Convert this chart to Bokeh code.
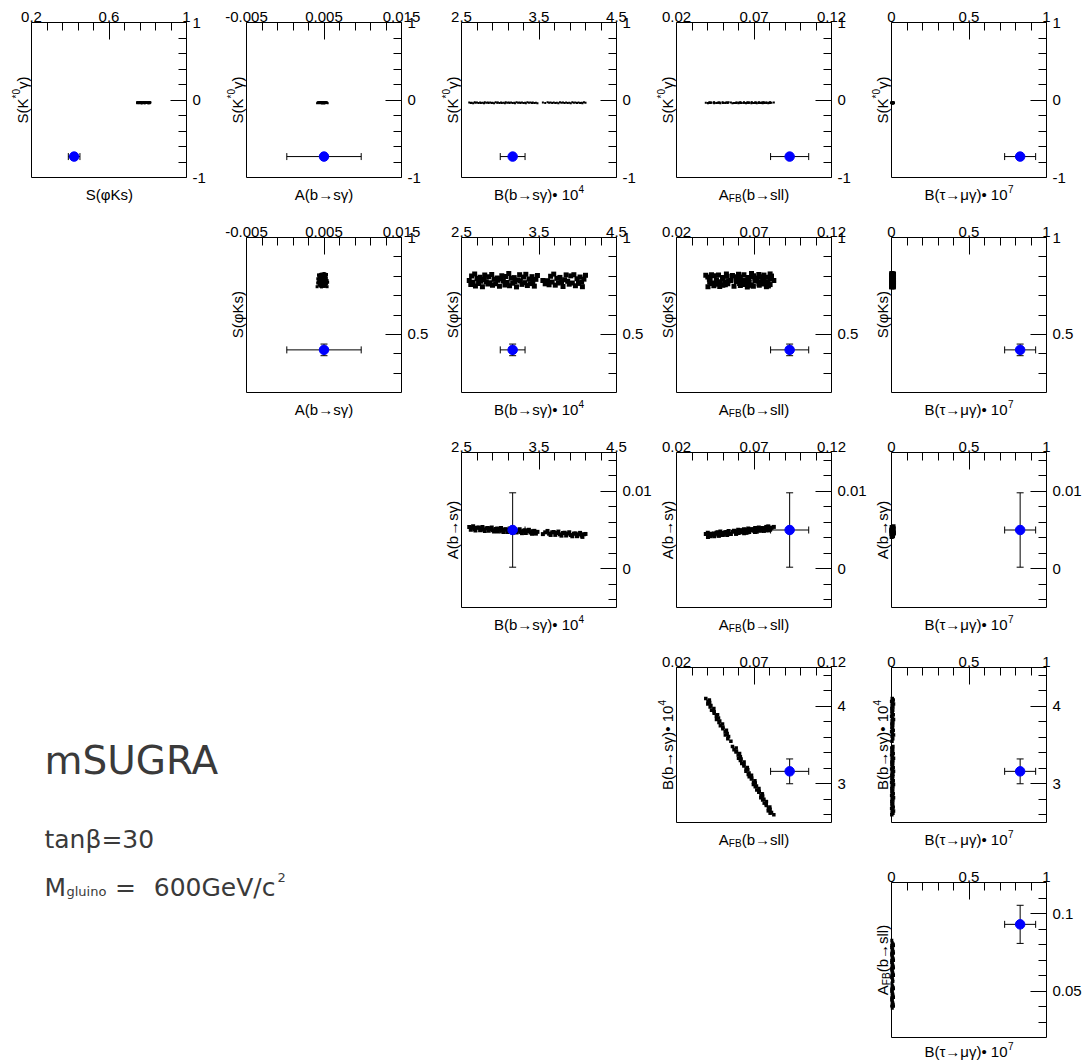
import math
from bokeh.plotting import figure
from bokeh.models import Range1d, FixedTicker, Label, Spacer, LinearAxis
from bokeh.layouts import row, column
from bokeh.embed import file_html
from bokeh.resources import INLINE

# ---------------- model scan points ----------------
B_BSG = [2.60, 2.62, 2.63, 2.65, 2.67, 2.68, 2.70, 2.72, 2.74, 2.75,
         2.77, 2.79, 2.80, 2.82, 2.84, 2.85, 2.87, 2.89, 2.90, 2.92,
         2.94, 2.96, 2.97, 2.99, 3.01, 3.02, 3.04, 3.06, 3.07, 3.09,
         3.11, 3.12, 3.14, 3.16, 3.18, 3.19, 3.21, 3.23, 3.25, 3.26,
         3.28, 3.30, 3.32, 3.33, 3.35, 3.37, 3.39, 3.41, 3.42, 3.44,
         3.46, 3.48, 3.61, 3.63, 3.65, 3.67, 3.69, 3.71, 3.73, 3.75,
         3.77, 3.79, 3.81, 3.83, 3.85, 3.87, 3.89, 3.91, 3.93, 3.95,
         3.97, 3.99, 4.01, 4.03, 4.05, 4.06, 4.08, 4.10, 3.55, 3.58]
AFB_BSLL = [0.0828, 0.0804, 0.0813, 0.0792, 0.0804, 0.0793, 0.0802, 0.0779, 0.0779, 0.0766,
            0.0780, 0.0756, 0.0764, 0.0744, 0.0756, 0.0745, 0.0754, 0.0731, 0.0734, 0.0718,
            0.0732, 0.0708, 0.0716, 0.0696, 0.0708, 0.0697, 0.0706, 0.0683, 0.0686, 0.0669,
            0.0684, 0.0663, 0.0668, 0.0648, 0.0660, 0.0649, 0.0657, 0.0635, 0.0635, 0.0621,
            0.0636, 0.0612, 0.0617, 0.0600, 0.0612, 0.0598, 0.0607, 0.0584, 0.0587, 0.0571,
            0.0585, 0.0561, 0.0536, 0.0515, 0.0527, 0.0514, 0.0522, 0.0499, 0.0500, 0.0483,
            0.0497, 0.0474, 0.0479, 0.0458, 0.0471, 0.0457, 0.0465, 0.0443, 0.0443, 0.0426,
            0.0441, 0.0417, 0.0422, 0.0402, 0.0414, 0.0403, 0.0412, 0.0389, 0.0551, 0.0531]
A_BSG = [0.00540, 0.00504, 0.00528, 0.00547, 0.00511, 0.00495, 0.00529, 0.00533, 0.00497, 0.00521,
         0.00540, 0.00503, 0.00488, 0.00522, 0.00525, 0.00490, 0.00514, 0.00532, 0.00497, 0.00481,
         0.00514, 0.00518, 0.00482, 0.00506, 0.00525, 0.00489, 0.00473, 0.00507, 0.00511, 0.00475,
         0.00499, 0.00518, 0.00482, 0.00466, 0.00500, 0.00504, 0.00468, 0.00492, 0.00510, 0.00475,
         0.00459, 0.00492, 0.00496, 0.00461, 0.00484, 0.00503, 0.00467, 0.00451, 0.00485, 0.00489,
         0.00453, 0.00476, 0.00488, 0.00452, 0.00436, 0.00470, 0.00474, 0.00437, 0.00461, 0.00480,
         0.00444, 0.00427, 0.00461, 0.00465, 0.00429, 0.00453, 0.00471, 0.00435, 0.00419, 0.00453,
         0.00456, 0.00420, 0.00444, 0.00463, 0.00427, 0.00411, 0.00445, 0.00449, 0.00447, 0.00470]
S_PHIKS = [0.778, 0.757, 0.801, 0.769, 0.812, 0.750, 0.788, 0.763, 0.795, 0.774,
           0.746, 0.783, 0.806, 0.772, 0.760, 0.797, 0.766, 0.809, 0.753, 0.785,
           0.761, 0.791, 0.779, 0.748, 0.787, 0.803, 0.775, 0.755, 0.799, 0.768,
           0.814, 0.751, 0.790, 0.764, 0.793, 0.771, 0.745, 0.781, 0.808, 0.776,
           0.758, 0.796, 0.767, 0.810, 0.752, 0.786, 0.762, 0.798, 0.773, 0.749,
           0.784, 0.804, 0.777, 0.756, 0.800, 0.770, 0.811, 0.754, 0.789, 0.765,
           0.794, 0.772, 0.747, 0.782, 0.807, 0.774, 0.759, 0.802, 0.765, 0.808,
           0.751, 0.787, 0.763, 0.796, 0.770, 0.746, 0.785, 0.805, 0.778, 0.761]
S_KSTG = [-0.031, -0.039, -0.034, -0.042, -0.029, -0.036, -0.033, -0.040, -0.031, -0.039,
          -0.034, -0.042, -0.029, -0.036, -0.033, -0.040, -0.031, -0.039, -0.034, -0.042,
          -0.029, -0.036, -0.033, -0.040, -0.031, -0.039, -0.034, -0.042, -0.029, -0.036,
          -0.033, -0.040, -0.031, -0.039, -0.034, -0.042, -0.029, -0.036, -0.033, -0.040,
          -0.031, -0.039, -0.034, -0.042, -0.029, -0.036, -0.033, -0.040, -0.031, -0.039,
          -0.034, -0.042, -0.029, -0.036, -0.033, -0.040, -0.031, -0.039, -0.034, -0.042,
          -0.029, -0.036, -0.033, -0.040, -0.031, -0.039, -0.034, -0.042, -0.029, -0.036,
          -0.033, -0.040, -0.031, -0.039, -0.034, -0.042, -0.029, -0.036, -0.033, -0.040]
B_TMG = [0.002, 0.009, 0.004, 0.013, 0.006, 0.001, 0.011, 0.005, 0.003, 0.008,
         0.002, 0.009, 0.004, 0.013, 0.006, 0.001, 0.011, 0.005, 0.003, 0.008,
         0.002, 0.009, 0.004, 0.013, 0.006, 0.001, 0.011, 0.005, 0.003, 0.008,
         0.002, 0.009, 0.004, 0.013, 0.006, 0.001, 0.011, 0.005, 0.003, 0.008,
         0.002, 0.009, 0.004, 0.013, 0.006, 0.001, 0.011, 0.005, 0.003, 0.008,
         0.002, 0.009, 0.004, 0.013, 0.006, 0.001, 0.011, 0.005, 0.003, 0.008,
         0.002, 0.009, 0.004, 0.013, 0.006, 0.001, 0.011, 0.005, 0.003, 0.008,
         0.002, 0.009, 0.004, 0.013, 0.006, 0.001, 0.011, 0.005, 0.003, 0.008]

# ---------------- experimental values ----------------
MEAS_VALUE = {"SK": -0.73, "SPHI": 0.42, "A": 0.005, "B": 3.16, "AFB": 0.093, "BTAU": 0.83}
MEAS_ERROR = {"SK": 0.0, "SPHI": 0.03, "A": 0.0048, "B": 0.16, "AFB": 0.0123, "BTAU": 0.10}

# ---------------- axis ranges and ticks ----------------
SK_RANGE = (-1.0, 1.0)
SK_YMAJOR = [-1.0, 0.0, 1.0]
SK_YLABELS = ["-1", "0", "1"]
SK_YMINOR = [-0.8, -0.6, -0.4, -0.2, 0.2, 0.4, 0.6, 0.8]

SPHI_RANGE = (0.2, 1.0)
SPHI_XMAJOR = [0.2, 0.6, 1.0]
SPHI_XLABELS = ["0.2", "0.6", "1"]
SPHI_XMINOR = [0.28, 0.36, 0.44, 0.52, 0.68, 0.76, 0.84, 0.92]
SPHI_YMAJOR = [0.5, 1.0]
SPHI_YLABELS = ["0.5", "1"]
SPHI_YMINOR = [0.3, 0.4, 0.6, 0.7, 0.8, 0.9]

A_RANGE = (-0.005, 0.015)
A_XMAJOR = [-0.005, 0.005, 0.015]
A_XLABELS = ["-0.005", "0.005", "0.015"]
A_XMINOR = [-0.003, -0.001, 0.001, 0.003, 0.007, 0.009, 0.011, 0.013]
A_YMAJOR = [0.0, 0.01]
A_YLABELS = ["0", "0.01"]
A_YMINOR = [-0.004, -0.002, 0.002, 0.004, 0.006, 0.008, 0.012, 0.014]

B_RANGE = (2.5, 4.5)
B_XMAJOR = [2.5, 3.5, 4.5]
B_XLABELS = ["2.5", "3.5", "4.5"]
B_XMINOR = [2.7, 2.9, 3.1, 3.3, 3.7, 3.9, 4.1, 4.3]
B_YMAJOR = [3.0, 4.0]
B_YLABELS = ["3", "4"]
B_YMINOR = [2.6, 2.8, 3.2, 3.4, 3.6, 3.8, 4.2, 4.4]

AFB_RANGE = (0.02, 0.12)
AFB_XMAJOR = [0.02, 0.07, 0.12]
AFB_XLABELS = ["0.02", "0.07", "0.12"]
AFB_XMINOR = [0.03, 0.04, 0.05, 0.06, 0.08, 0.09, 0.10, 0.11]
AFB_YMAJOR = [0.05, 0.1]
AFB_YLABELS = ["0.05", "0.1"]
AFB_YMINOR = [0.03, 0.04, 0.06, 0.07, 0.08, 0.09, 0.11]

BTAU_RANGE = (0.0, 1.0)
BTAU_XMAJOR = [0.0, 0.5, 1.0]
BTAU_XLABELS = ["0", "0.5", "1"]
BTAU_XMINOR = [0.1, 0.2, 0.3, 0.4, 0.6, 0.7, 0.8, 0.9]

# titles: (text, kind) segments; kind n=normal, sup, sub
TITLES = {
    "SK": [("S(K", "n"), ("*0", "sup"), ("γ)", "n")],
    "SPHI": [("S(φKs)", "n")],
    "A": [("A(b→sγ)", "n")],
    "B": [("B(b→sγ)• 10", "n"), ("4", "sup")],
    "AFB": [("A", "n"), ("FB", "sub"), ("(b→sll)", "n")],
    "BTAU": [("B(τ→μγ)• 10", "n"), ("7", "sup")],
}

DATA = {"SK": S_KSTG, "SPHI": S_PHIKS, "A": A_BSG, "B": B_BSG, "AFB": AFB_BSLL, "BTAU": B_TMG}
RANGES = {"SK": SK_RANGE, "SPHI": SPHI_RANGE, "A": A_RANGE, "B": B_RANGE, "AFB": AFB_RANGE, "BTAU": BTAU_RANGE}
XTICKS = {"SPHI": (SPHI_XMAJOR, SPHI_XLABELS, SPHI_XMINOR), "A": (A_XMAJOR, A_XLABELS, A_XMINOR),
          "B": (B_XMAJOR, B_XLABELS, B_XMINOR), "AFB": (AFB_XMAJOR, AFB_XLABELS, AFB_XMINOR),
          "BTAU": (BTAU_XMAJOR, BTAU_XLABELS, BTAU_XMINOR)}
YTICKS = {"SK": (SK_YMAJOR, SK_YLABELS, SK_YMINOR), "SPHI": (SPHI_YMAJOR, SPHI_YLABELS, SPHI_YMINOR),
          "A": (A_YMAJOR, A_YLABELS, A_YMINOR), "B": (B_YMAJOR, B_YLABELS, B_YMINOR),
          "AFB": (AFB_YMAJOR, AFB_YLABELS, AFB_YMINOR)}

PANEL_ROWS = ["SK", "SPHI", "A", "B", "AFB"]
PANEL_COLS = ["SPHI", "A", "B", "AFB", "BTAU"]

# ---------------- layout / style ----------------
BORDER_L = [31, 23, 23, 23, 23]
COL_W = [223, 215, 215, 215, 217]
ROW_H = [215, 215, 215, 215, 202]
FRAME = 155
BORDER_T = 22
TITLE_OFFSET = [-17, -17, -17, -17, -14]
MARK_SIZE = [2, 5, 4, 3.5, 3]
MARK_SIZE_PANEL = {(1, 1): 3}
FONT = "Liberation Sans"
TICK_FS = 15
TITLE_FS = 15
SMALL_FS = 10

CHAR_W = {'S': 0.667, '(': 0.333, ')': 0.333, 'K': 0.667, 's': 0.5, 'A': 0.667, 'b': 0.556,
          'B': 0.667, 'l': 0.222, 'F': 0.611, ' ': 0.278, '*': 0.389, '•': 0.35, '→': 1.0,
          'γ': 0.5, 'φ': 0.6, 'τ': 0.43, 'μ': 0.576}


def text_w(s, fs):
    return sum(CHAR_W.get(ch, 0.556) for ch in s) * fs


def add_title(p, segs, vertical, offset, x0, y0, sx, sy):
    """Title made of text pieces (normal / superscript / subscript), in pixel offsets
    from the lower-left corner of the box, converted to data units."""
    widths = [text_w(t, TITLE_FS if k == "n" else SMALL_FS) for t, k in segs]
    pos = FRAME / 2 - sum(widths) / 2
    for (t, k), w in zip(segs, widths):
        fs = TITLE_FS if k == "n" else SMALL_FS
        shift = 6 if k == "sup" else (-4 if k == "sub" else 0)
        if vertical:
            lab = Label(x=x0 + (offset - shift) * sx, y=y0 + pos * sy, text=t, angle=math.pi / 2,
                        text_align="left", text_baseline="alphabetic", text_font=FONT,
                        text_font_size=f"{fs}px", text_color="black")
        else:
            lab = Label(x=x0 + pos * sx, y=y0 + (offset + shift) * sy, text=t,
                        text_align="left", text_baseline="alphabetic", text_font=FONT,
                        text_font_size=f"{fs}px", text_color="black")
        p.add_layout(lab)
        pos += w


def tick_axis(ticks, major_len, loc, bounds, standoff):
    major, labels, minor = ticks
    ax = LinearAxis(fixed_location=loc, bounds=bounds,
                    ticker=FixedTicker(ticks=major, minor_ticks=minor))
    ax.major_label_overrides = dict(zip(major, labels))
    ax.major_tick_in = major_len
    ax.major_tick_out = 0
    ax.minor_tick_in = 8
    ax.minor_tick_out = 0
    ax.major_tick_line_color = "black"
    ax.minor_tick_line_color = "black"
    ax.axis_line_color = "black"
    ax.major_label_text_font = FONT
    ax.major_label_text_font_size = f"{TICK_FS}px"
    ax.major_label_text_color = "black"
    ax.major_label_standoff = standoff
    return ax


def edge_axis(loc, bounds):
    ax = LinearAxis(fixed_location=loc, bounds=bounds, ticker=FixedTicker(ticks=[], minor_ticks=[]))
    ax.major_tick_in = 0
    ax.major_tick_out = 0
    ax.minor_tick_in = 0
    ax.minor_tick_out = 0
    ax.major_label_text_font_size = "0px"
    ax.axis_line_color = "black"
    return ax


def make_panel(r, c):
    xv, yv = PANEL_COLS[c], PANEL_ROWS[r]
    W, H = COL_W[c], ROW_H[r]
    bl = BORDER_L[c]
    x0, x1 = RANGES[xv]
    y0, y1 = RANGES[yv]
    sx = (x1 - x0) / FRAME
    sy = (y1 - y0) / FRAME
    bb = H - BORDER_T - FRAME
    p = figure(width=W, height=H,
               x_range=Range1d(x0 - bl * sx, x0 + (W - bl) * sx),
               y_range=Range1d(y0 - bb * sy, y0 + (H - bb) * sy),
               x_axis_location=None, y_axis_location=None, toolbar_location=None,
               tools="", output_backend="svg", min_border=0)
    p.grid.visible = False
    p.outline_line_color = None
    p.background_fill_color = "white"
    p.border_fill_color = "white"

    # model scan cloud
    p.scatter(x=DATA[xv], y=DATA[yv], marker="square",
              size=MARK_SIZE_PANEL.get((r, c), MARK_SIZE[r]),
              fill_color="black", line_color=None)

    # experimental point
    mx, my = MEAS_VALUE[xv], MEAS_VALUE[yv]
    ex, ey = MEAS_ERROR[xv], MEAS_ERROR[yv]
    if ex > 0:
        p.segment(x0=[mx - ex], y0=[my], x1=[mx + ex], y1=[my], line_color="black", line_width=1)
        p.scatter(x=[mx - ex, mx + ex], y=[my, my], marker="dash", angle=math.pi / 2,
                  size=7, line_color="black", line_width=1)
    if ey > 0:
        p.segment(x0=[mx], y0=[my - ey], x1=[mx], y1=[my + ey], line_color="black", line_width=1)
        p.scatter(x=[mx, mx], y=[my - ey, my + ey], marker="dash",
                  size=7, line_color="black", line_width=1)
    p.scatter(x=[mx], y=[my], marker="circle", size=9.5, fill_color="#0000ff", line_color="#0000ff")

    # box edges and tick axes (top and right carry ticks & labels)
    p.add_layout(edge_axis(y0, (x0, x1)), "below")
    p.add_layout(edge_axis(x0, (y0, y1)), "left")
    p.add_layout(tick_axis(XTICKS[xv], 17, y1, (x0, x1), 1), "above")
    p.add_layout(tick_axis(YTICKS[yv], 16, x1, (y0, y1), 6), "right")

    add_title(p, TITLES[xv], False, TITLE_OFFSET[r], x0, y0, sx, sy)
    add_title(p, TITLES[yv], True, -9, x0, y0, sx, sy)
    return p


figs = {}
for r in range(5):
    for c in range(r, 5):
        figs[(r, c)] = make_panel(r, c)

# text panel
TW, TH = COL_W[0] + COL_W[1] + COL_W[2], ROW_H[3] + ROW_H[4]
tf = figure(width=TW, height=TH, x_range=Range1d(0, TW), y_range=Range1d(TH, 0),
            x_axis_location=None, y_axis_location=None, toolbar_location=None, tools="",
            output_backend="svg", min_border=0)
tf.grid.visible = False
tf.outline_line_color = None
tf.background_fill_color = "white"
tf.border_fill_color = "white"
TEXT_FONT = "DejaVu Sans"
TEXT_COLOR = "#3a3a3a"
texts = [
    dict(x=44, y=115, text="mSUGRA", text_font_size="39px", text_align="left"),
    dict(x=44, y=194, text="tanβ=30", text_font_size="25px", text_align="left"),
    dict(x=44, y=241.5, text="M", text_font_size="25px", text_align="left"),
    dict(x=66, y=245.5, text="gluino", text_font_size="13px", text_align="left"),
    dict(x=125, y=241.5, text="=", text_font_size="25px", text_align="center"),
    dict(x=275, y=241.5, text="600GeV/c", text_font_size="25px", text_align="right"),
    dict(x=277, y=231.5, text="2", text_font_size="13px", text_align="left"),
]
for t in texts:
    tf.add_layout(Label(text_font=TEXT_FONT, text_color=TEXT_COLOR,
                        text_baseline="alphabetic", **t))

row0 = row(*[figs[(0, c)] for c in range(5)])
row1 = row(Spacer(width=COL_W[0], height=ROW_H[1]), *[figs[(1, c)] for c in range(1, 5)])
row2 = row(Spacer(width=COL_W[0], height=ROW_H[2]), Spacer(width=COL_W[1], height=ROW_H[2]),
           *[figs[(2, c)] for c in range(2, 5)])
right = column(row(figs[(3, 3)], figs[(3, 4)]),
               row(Spacer(width=COL_W[3], height=ROW_H[4]), figs[(4, 4)]))
bottom = row(tf, right)
layout = column(row0, row1, row2, bottom)

open("out.html", "w").write(file_html(layout, INLINE))
